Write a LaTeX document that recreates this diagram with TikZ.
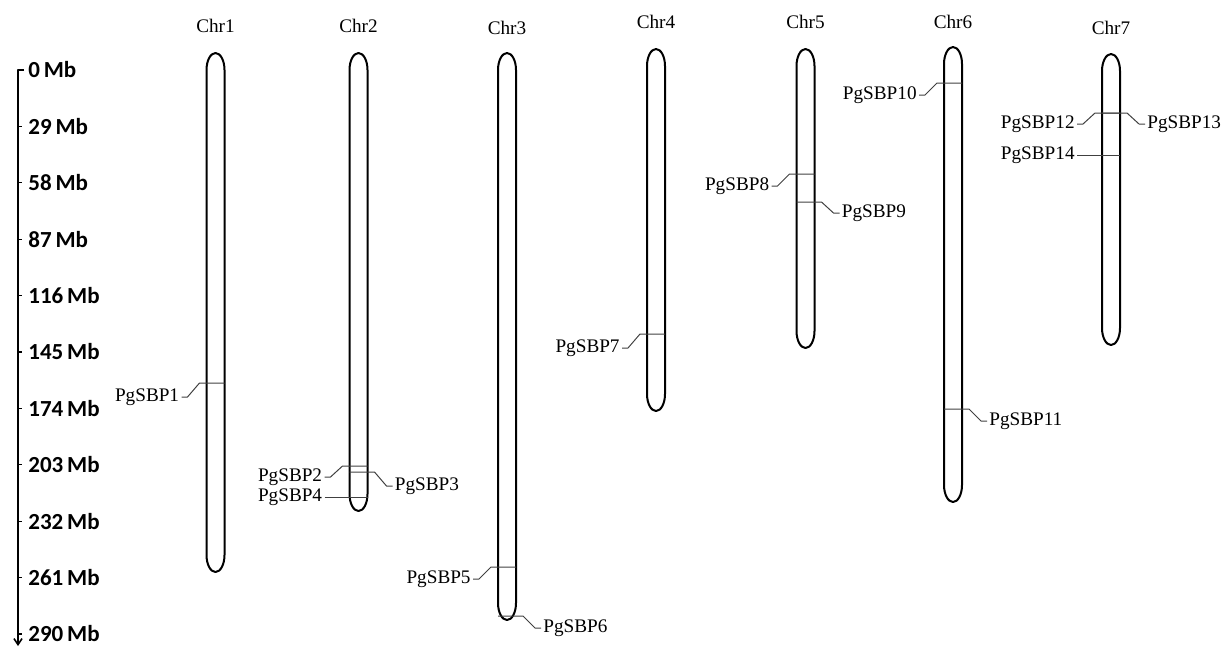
\documentclass[tikz,border=0pt]{standalone}
\usepackage{fontspec}
\setmainfont{Liberation Serif}
\newfontfamily\scalefont{Carlito}
\usetikzlibrary{arrows.meta}

\tikzset{
  chrline/.style={line width=1pt},
  genetick/.style={line width=0.5pt, black!75},
  genelab/.style={font=\fontsize{9.6}{11}\selectfont, inner sep=1pt},
  chrtitle/.style={font=\fontsize{9.6}{11}\selectfont},
  mblab/.style={font=\scalefont\bfseries\fontsize{11.5}{13}\selectfont, anchor=west, inner sep=0pt},
}

% chromosome: name, x, top, bottom, title y
\newcommand\chrom[5]{%
  \draw[chrline] (#2-9,#3+17) arc[start angle=180,end angle=360,x radius=9,y radius=17]
    -- (#2+9,#4-17) arc[start angle=0,end angle=180,x radius=9,y radius=17] -- cycle;
  \node[chrtitle] (#1) at (#2,#5) {#1};
}
% gene with label on the left: chrom x, line y, name, label y
\newcommand\geneleft[4]{%
  \node[genelab, anchor=east] (#3) at (#1-34,#4) {#3};
  \draw[genetick] (#3.east) -- ++(6,0) -- (#1-16,#2) -- (#1+9,#2);
}
% gene with label on the right
\newcommand\generight[4]{%
  \node[genelab, anchor=west] (#3) at (#1+34,#4) {#3};
  \draw[genetick] (#3.west) -- ++(-6,0) -- (#1+16,#2) -- (#1-9,#2);
}
% gene with straight connector
\newcommand\genestraight[3]{%
  \node[genelab, anchor=east] (#3) at (#1-34,#2) {#3};
  \draw[genetick] (#3.east) -- (#1+9,#2);
}

\begin{document}
\begin{tikzpicture}[x=0.5pt, y=-0.5pt, line join=round]
  \useasboundingbox (0,0) rectangle (1225,649);
  \def\ytop{70} \def\dy{56.4}
  % scale axis
  \draw[line width=0.8pt, -{Straight Barb[length=3pt,width=4pt]}] (24,\ytop) -- (18,\ytop) -- (18,646);
  \foreach \k in {1,...,10}
    \draw[line width=0.6pt] (18,\ytop+\k*\dy) -- ++(4,0);
  \foreach \k [evaluate=\k as \mb using int(29*\k)] in {0,...,10}
    \node[mblab] (mb\k) at (28,\ytop+\k*\dy) {\mb\,Mb};

  % chromosomes
  \chrom{Chr1}{215.5}{53}{572}{26}
  \chrom{Chr2}{358.5}{53}{511}{26}
  \chrom{Chr3}{507}{53}{620}{28}
  \chrom{Chr4}{656}{49}{411}{22}
  \chrom{Chr5}{805.5}{49}{348}{22}
  \chrom{Chr6}{953}{47}{502}{22}
  \chrom{Chr7}{1111}{54}{345}{28}

  % genes
  \geneleft{215.5}{383}{PgSBP1}{397}
  \geneleft{358.5}{466}{PgSBP2}{477}
  \generight{358.5}{472}{PgSBP3}{486}
  \genestraight{358.5}{497}{PgSBP4}
  \geneleft{507}{567}{PgSBP5}{579}
  \generight{507}{616}{PgSBP6}{628}
  \geneleft{656}{334}{PgSBP7}{348}
  \geneleft{805.5}{174}{PgSBP8}{186}
  \generight{805.5}{202}{PgSBP9}{213}
  \geneleft{953}{83}{PgSBP10}{95}
  \generight{953}{409}{PgSBP11}{421}
  \geneleft{1111}{113}{PgSBP12}{124}
  \generight{1111}{113}{PgSBP13}{124}
  \genestraight{1111}{155}{PgSBP14}
\end{tikzpicture}
\end{document}
